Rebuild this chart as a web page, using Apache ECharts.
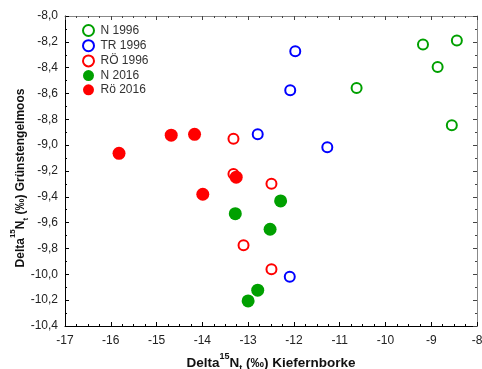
<!DOCTYPE html>
<html><head><meta charset="utf-8">
<script src="https://cdn.jsdelivr.net/npm/echarts@6/dist/echarts.min.js"></script>
<style>html,body{margin:0;padding:0;background:#fff}#c{width:482px;height:369px}</style>
</head><body><div id="c"></div>
<script>
const seriesNames = ['N 1996', 'TR 1996', 'RÖ 1996', 'N 2016', 'Rö 2016'];
const n1996 = [[-9.18,-8.22],[-8.44,-8.19],[-8.86,-8.395],[-10.63,-8.557],[-8.55,-8.846]];
const tr1996 = [[-11.97,-8.273],[-12.08,-8.575],[-12.79,-8.916],[-11.27,-9.016],[-12.09,-10.018]];
const ro1996 = [[-13.32,-8.95],[-13.32,-9.223],[-12.49,-9.298],[-13.1,-9.775],[-12.49,-9.96]];
const n2016 = [[-12.29,-9.432],[-13.28,-9.53],[-12.52,-9.651],[-12.79,-10.123],[-13.0,-10.206]];
const ro2016 = [[-15.82,-9.063],[-14.68,-8.923],[-14.17,-8.916],[-13.26,-9.248],[-13.99,-9.38]];
const colors = ['#00a000','#0000ff','#ff0000','#00a000','#ff0000'];
const xMin = -17, xMax = -8, yMin = -10.4, yMax = -8.0;
const xTitle = '{a|Delta}{sup|15}{a|N}{sub|t}{a| (‰) Kiefernborke}';
const yTitle = '{a|Delta}{sup|15}{a|N}{sub|t}{a| (‰) Grünstengelmoos}';

const chart = echarts.init(document.getElementById('c'));
const fmtY = v => v.toFixed(1).replace('.', ',');
function makeRich(fs){
  const sfs = Math.round(fs*0.67);
  return {
    a: {fontFamily:'Liberation Sans', fontWeight:'bold', fontSize:fs, fill:'#111', color:'#111', lineHeight:18, verticalAlign:'bottom'},
    sup: {fontFamily:'Liberation Sans', fontWeight:'bold', fontSize:sfs, fill:'#111', color:'#111', lineHeight:18, verticalAlign:'top'},
    sub: {fontFamily:'Liberation Sans', fontWeight:'bold', fontSize:sfs, fill:'#111', color:'#111', lineHeight:18, verticalAlign:'bottom', padding:[0,0,-3,0]}
  };
}
const labelStyle = {fontFamily:'Liberation Sans', fontSize:12, color:'#222'};
function openSeries(name, data, color){
  return {name, type:'scatter', data, symbol:'emptyCircle', symbolSize:10,
    itemStyle:{color:color, borderColor:color, borderWidth:2, opacity:1}};
}
function fillSeries(name, data, color){
  return {name, type:'scatter', data, symbol:'circle', symbolSize:13,
    itemStyle:{color:color, borderWidth:0, opacity:1}};
}
chart.setOption({
  animation:false,
  grid:{left:65, right:5, top:16, bottom:43, containLabel:false, outerBoundsMode:'none'},
  legend:{orient:'vertical', left:77, top:19, itemGap:2.2, itemWidth:14, itemHeight:11,
    textStyle:{fontFamily:'Liberation Sans', fontSize:12, color:'#333', lineHeight:11},
    data:seriesNames},
  graphic:[{type:'text', x:18, y:178, rotation:Math.PI/2,
    style:{text:yTitle, rich:makeRich(12), align:'center', verticalAlign:'middle'}}],
  xAxis:[{type:'value', min:xMin, max:xMax, interval:1,
    axisLine:{lineStyle:{color:'#000', width:1}}, splitLine:{show:false},
    axisTick:{inside:true, length:4, lineStyle:{color:'#000'}},
    minorTick:{show:true, splitNumber:4, length:2, lineStyle:{color:'#000'}},
    axisLabel:Object.assign({margin:9}, labelStyle),
    name:xTitle, nameLocation:'middle', nameGap:25,
    nameTextStyle:{rich:makeRich(13.5)}},
   {type:'value', position:'top', min:xMin, max:xMax, interval:1,
    axisLine:{lineStyle:{color:'#888'}}, splitLine:{show:false}, axisLabel:{show:false},
    axisTick:{inside:true, length:4, lineStyle:{color:'#444'}},
    minorTick:{show:true, splitNumber:4, length:2, lineStyle:{color:'#444'}}}],
  yAxis:[{type:'value', min:yMin, max:yMax, interval:0.2,
    axisLine:{show:true, lineStyle:{color:'#000'}}, splitLine:{show:false},
    axisTick:{inside:true, length:4, lineStyle:{color:'#000'}},
    minorTick:{show:true, splitNumber:2, length:2, lineStyle:{color:'#000'}},
    axisLabel:Object.assign({margin:7, formatter:fmtY}, labelStyle)},
   {type:'value', position:'right', min:yMin, max:yMax, interval:0.2,
    axisLine:{show:true, lineStyle:{color:'#888'}}, splitLine:{show:false}, axisLabel:{show:false},
    axisTick:{inside:true, length:4, lineStyle:{color:'#444'}},
    minorTick:{show:true, splitNumber:2, length:2, lineStyle:{color:'#444'}}}],
  series:[
    openSeries(seriesNames[0], n1996, colors[0]),
    openSeries(seriesNames[1], tr1996, colors[1]),
    openSeries(seriesNames[2], ro1996, colors[2]),
    fillSeries(seriesNames[3], n2016, colors[3]),
    fillSeries(seriesNames[4], ro2016, colors[4])
  ]
});
</script></body></html>
